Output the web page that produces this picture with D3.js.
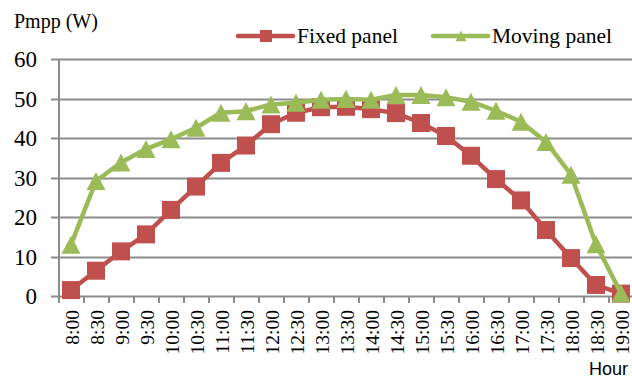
<!DOCTYPE html>
<html>
<head>
<meta charset="utf-8">
<script src="https://cdn.jsdelivr.net/npm/d3@7/dist/d3.min.js"></script>
<style>
  html, body { margin: 0; padding: 0; background: #fff; }
  svg { display: block; }
</style>
</head>
<body>
<svg id="chart" width="632" height="378"></svg>
<script>
// Hourly maximum power point (W), fixed vs. sun-tracking panel
const hours = ["8:00","8:30","9:00","9:30","10:00","10:30","11:00","11:30","12:00","12:30",
  "13:00","13:30","14:00","14:30","15:00","15:30","16:00","16:30","17:00","17:30",
  "18:00","18:30","19:00"];
const fixedPanel = [1.5, 6.4, 11.3, 15.6, 21.8, 27.7, 33.7, 38.1, 43.5, 46.4,
  47.8, 47.9, 47.3, 46.3, 43.8, 40.5, 35.5, 29.6, 24.2, 16.7, 9.6, 2.8, 0.6];
const movingPanel = [13.0, 29.1, 33.8, 37.2, 39.7, 42.6, 46.4, 46.8, 48.5, 48.9,
  49.7, 49.9, 49.7, 50.9, 50.9, 50.3, 49.2, 46.9, 44.1, 39.0, 30.7, 13.1, 0.7];
const yTicks = [0, 10, 20, 30, 40, 50, 60];
const seriesNames = ["Fixed panel", "Moving panel"];

const RED = "#C0504D", GREEN = "#9BBB59", GRID = "#8c8c8c";
const SERIF = "'Liberation Serif', 'Times New Roman', serif";
const svg = d3.select("#chart");

const x = d3.scaleBand().domain(hours).range([58.5, 633.5]);
const y = d3.scaleLinear().domain([0, 60]).range([296, 59]);

// triangle centred on its bounding box; size = width of the base
const boxTriangle = {
  draw(context, size) {
    const w = Math.sqrt(size), h = w * 0.95;
    context.moveTo(0, -h / 2);
    context.lineTo(w / 2, h / 2);
    context.lineTo(-w / 2, h / 2);
    context.closePath();
  }
};

// horizontal gridlines with short left ticks
svg.append("g").selectAll("line").data(yTicks).join("line")
  .attr("x1", 51).attr("x2", 632)
  .attr("y1", d => Math.round(y(d)) + 0.5).attr("y2", d => Math.round(y(d)) + 0.5)
  .attr("stroke", GRID).attr("stroke-width", 2);

// y-axis line
svg.append("line")
  .attr("x1", 59).attr("x2", 59).attr("y1", y(60)).attr("y2", y(0) + 1)
  .attr("stroke", GRID).attr("stroke-width", 2);

// y tick labels
svg.append("g").selectAll("text").data(yTicks).join("text")
  .attr("x", 37).attr("y", d => y(d)).attr("dy", "0.35em")
  .attr("text-anchor", "end")
  .attr("font-family", SERIF)
  .attr("font-size", 23).attr("fill", "#000")
  .text(d => d);

// x tick marks at band boundaries
const boundaries = hours.map(h => x(h)).concat([x(hours[hours.length - 1]) + x.bandwidth()]);
svg.append("g").selectAll("line").data(boundaries).join("line")
  .attr("x1", d => Math.round(d)).attr("x2", d => Math.round(d))
  .attr("y1", y(0)).attr("y2", y(0) + 7)
  .attr("stroke", GRID).attr("stroke-width", 2);

// rotated hour labels
svg.append("g").selectAll("text").data(hours).join("text")
  .attr("transform", d => `translate(${x(d) + x.bandwidth() / 2 + 1},310) rotate(-90)`)
  .attr("dy", "0.35em")
  .attr("text-anchor", "end")
  .attr("font-family", SERIF)
  .attr("font-size", 19.5).attr("fill", "#000")
  .text(d => d);

const cx = (d, i) => x(hours[i]) + x.bandwidth() / 2;
const line = d3.line().x((d, i) => cx(d, i)).y(d => y(d));

function drawSeries(values, color, symbolType, size) {
  svg.append("path").datum(values)
    .attr("d", line).attr("fill", "none")
    .attr("stroke", color).attr("stroke-width", 4.5)
    .attr("stroke-linejoin", "round");
  const sym = d3.symbol().type(symbolType).size(size);
  svg.append("g").selectAll("path").data(values).join("path")
    .attr("transform", (d, i) => `translate(${cx(d, i)},${y(d)})`)
    .attr("d", sym).attr("fill", color);
}

drawSeries(fixedPanel, RED, d3.symbolSquare, 324);
drawSeries(movingPanel, GREEN, boxTriangle, 361);

// axis titles
svg.append("text")
  .attr("x", 14).attr("y", 28)
  .attr("font-family", SERIF)
  .attr("font-size", 20).attr("fill", "#000")
  .text("Pmpp (W)");

svg.append("text")
  .attr("x", 628).attr("y", 375)
  .attr("text-anchor", "end")
  .attr("font-family", "'Liberation Sans', Arial, sans-serif")
  .attr("font-size", 18).attr("fill", "#000")
  .text("Hour");

// legend
const legend = [
  { name: seriesNames[0], color: RED, type: d3.symbolSquare, size: 144, x0: 238 },
  { name: seriesNames[1], color: GREEN, type: boxTriangle, size: 121, x0: 433 }
];
const lg = svg.append("g").selectAll("g").data(legend).join("g")
  .attr("transform", d => `translate(${d.x0},36)`);
lg.append("line")
  .attr("x1", 0).attr("x2", 55).attr("y1", 0).attr("y2", 0)
  .attr("stroke", d => d.color).attr("stroke-width", 4.5).attr("stroke-linecap", "round");
lg.append("path")
  .attr("transform", "translate(28,0)")
  .attr("d", d => d3.symbol().type(d.type).size(d.size)())
  .attr("fill", d => d.color);
lg.append("text")
  .attr("x", 59).attr("y", 7)
  .attr("font-family", SERIF)
  .attr("font-size", 21.5).attr("fill", "#000")
  .text(d => d.name);
</script>
</body>
</html>
